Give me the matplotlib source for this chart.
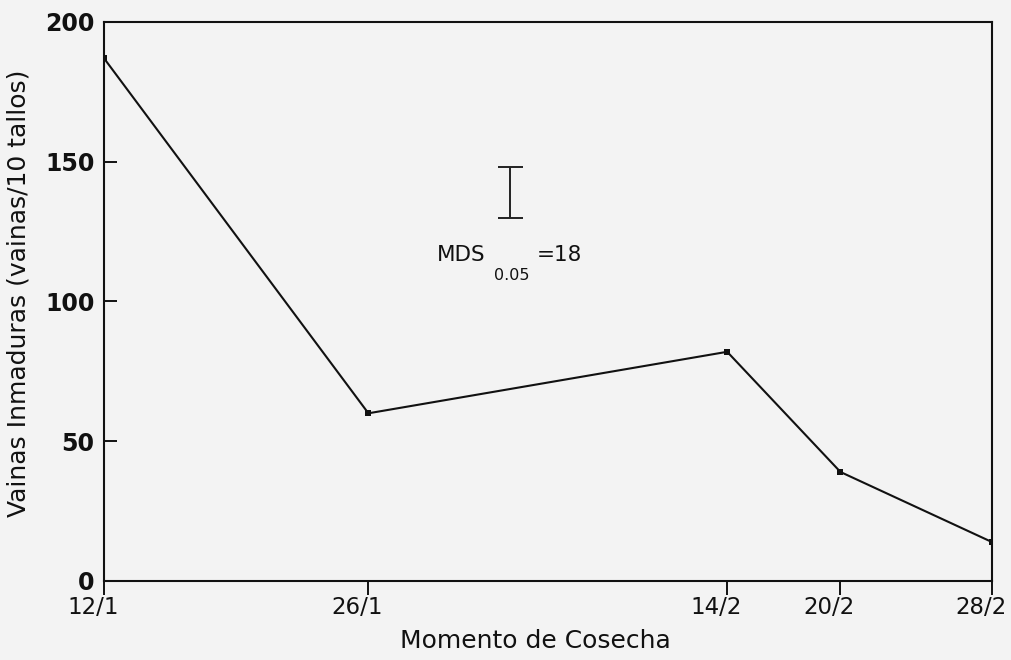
import matplotlib.pyplot as plt
from matplotlib.transforms import ScaledTranslation

plt.rcParams['font.family'] = ['DejaVu Sans']

# cosechas: fecha, dia del año y vainas inmaduras cada 10 tallos
fechas = ['12/1', '26/1', '14/2', '20/2', '28/2']
dias = [12, 26, 45, 51, 59]
vainas = [187, 60, 82, 39, 14]

# minima diferencia significativa (p=0.05)
mds = 18
mds_dia = 33.5
mds_centro = 139

fondo = '#f3f3f3'
tinta = '#111111'
fig = plt.figure(figsize=(10.12, 6.6), dpi=100, facecolor=fondo)
ax = fig.add_axes([0.1028, 0.1197, 0.877, 0.847])
ax.set_facecolor(fondo)

ax.plot(dias, vainas, color=tinta, linewidth=1.5,
        marker='s', markersize=4.8, markerfacecolor=tinta, markeredgewidth=0)

# barra de MDS
ax.errorbar([mds_dia], [mds_centro], yerr=[mds / 2], fmt='none',
            ecolor='#222222', elinewidth=1.4, capsize=9, capthick=1.4)
ax.text(29.6, 114.6, 'MDS', fontsize=15.5, color=tinta, va='baseline')
ax.text(32.64, 107.7, '0.05', fontsize=11.5, color=tinta, va='baseline')
ax.text(34.9, 114.6, '=18', fontsize=15.5, color=tinta, va='baseline')

ax.set_xlim(12, 59)
ax.set_ylim(0, 200)
ax.set_xticks(dias)
ax.set_xticklabels([])
ax.set_yticks([0, 50, 100, 150, 200])
ax.set_yticklabels(['0', '50', '100', '150', '200'], fontsize=17, fontweight='bold')

# fechas escritas a mano, algo corridas a la izquierda de su marca
trans_fecha = ax.get_xaxis_transform() + ScaledTranslation(-0.11, -0.15, fig.dpi_scale_trans)
for d, f in zip(dias, fechas):
    ax.text(d, 0, f, transform=trans_fecha, fontsize=16.5, color=tinta,
            ha='center', va='top', clip_on=False)

ax.tick_params(axis='x', direction='out', length=10, width=1.4, colors=tinta)
ax.tick_params(axis='y', direction='in', length=9, width=1.4, pad=7, colors=tinta)
for s in ax.spines.values():
    s.set_linewidth(1.5)
    s.set_color(tinta)

ax.set_xlabel('Momento de Cosecha', fontsize=18, color=tinta)
ax.set_ylabel('Vainas Inmaduras (vainas/10 tallos)', fontsize=18, color=tinta)
ax.xaxis.set_label_coords(0.4865, -0.086)
ax.yaxis.set_label_coords(-0.083, 0.515)

fig.savefig('out.png', dpi=100, facecolor=fondo)
